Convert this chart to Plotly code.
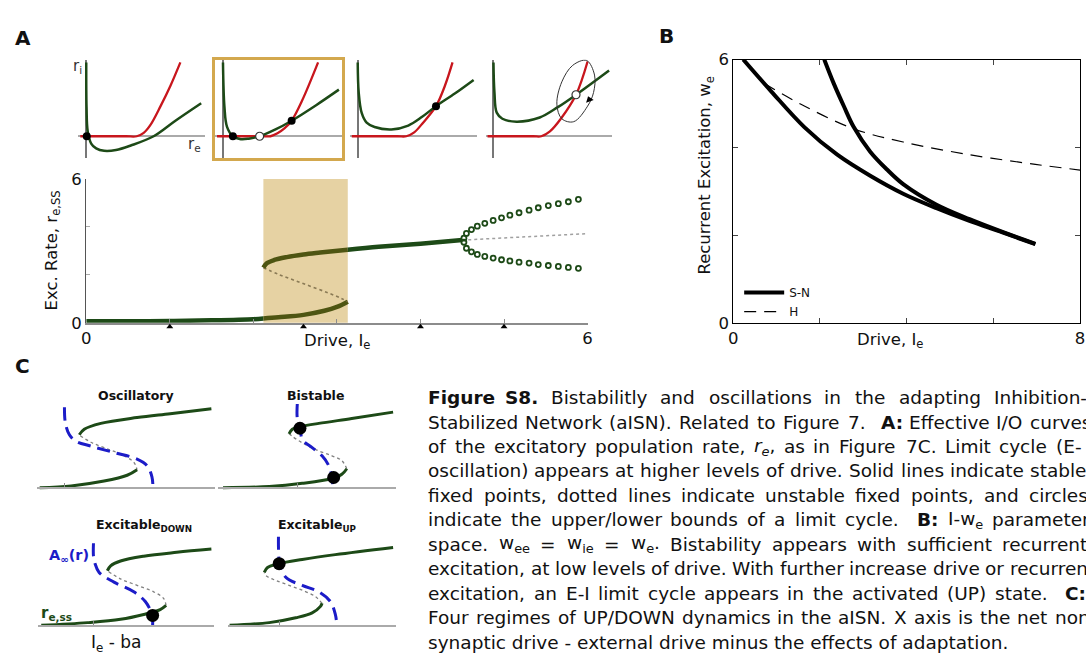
import re
import plotly.graph_objects as go

W, H = 1086, 664
def fx(px): return px / W
def fy(py): return 1 - py / H

FONT = "DejaVu Sans"
GREEN = "#1d4a17"
OLIVE = "#4e5512"
RED = "#c8161d"
TAN = "#e6d2a3"
GOLD = "#d3a84e"
BLUE = "#1c1cc8"

# ---------------- Panel A (top): nullcline sketches, local units ----------------
a1_green_x = [0.0, 0.03, 0.15, 0.5, 1.0, 1.8, 3.0, 4.5, 6.8, 9.0, 11.6]
a1_green_y = [7.6, 3.0, 0.5, -0.75, -1.25, -1.5, -1.42, -0.95, 0.0, 1.6, 3.4]
a1_red_x = [-0.6, 4.0, 5.1, 5.8, 6.5, 7.5, 8.5, 9.5]
a1_red_y = [0.0, 0.0, 0.0, 0.35, 1.2, 3.1, 5.2, 7.6]
a1_fixed_x = [0.05]
a1_fixed_y = [0.0]

a2_green_x = [0.0, 0.15, 0.4, 1.0, 1.8, 2.6, 3.7, 5.3, 6.93, 9.4, 11.7]
a2_green_y = [7.6, 3.0, 1.0, 0.0, -0.3, -0.25, 0.0, 0.7, 1.6, 3.2, 4.8]
a2_red_x = [-0.6, 4.0, 4.8, 5.5, 6.2, 6.93, 8.0, 9.6]
a2_red_y = [0.0, 0.0, 0.0, 0.3, 0.8, 1.6, 3.7, 7.6]
a2_stable_x = [1.0, 6.93]
a2_stable_y = [0.0, 1.6]
a2_unstable_x = [3.7]
a2_unstable_y = [0.0]

a3_green_x = [0.0, 0.1, 0.4, 0.9, 1.7, 3.4, 5.1, 6.5, 7.9, 9.8, 11.7]
a3_green_y = [7.6, 4.5, 2.4, 1.4, 0.95, 0.7, 1.1, 2.0, 3.1, 4.4, 5.8]
a3_red_x = [-0.6, 4.0, 4.9, 5.7, 6.6, 7.9, 8.8, 9.57]
a3_red_y = [0.0, 0.0, 0.0, 0.4, 1.4, 3.1, 5.2, 7.6]
a3_fixed_x = [7.9]
a3_fixed_y = [3.1]

a4_green_x = [0.0, 0.1, 0.33, 0.9, 2.33, 4.67, 6.5, 8.33, 11.67]
a4_green_y = [7.6, 4.5, 2.43, 1.8, 1.5, 1.93, 3.0, 4.27, 6.77]
a4_red_x = [-0.6, 4.0, 4.83, 5.7, 6.8, 8.33, 9.5]
a4_red_y = [0.0, 0.0, 0.0, 0.5, 1.8, 4.27, 7.7]
a4_fixed_x = [8.33]
a4_fixed_y = [4.27]
a4_cycle_x = [9.4, 10.2, 10.1, 9.5, 8.1, 6.9, 6.4, 6.9, 8.0, 9.4]
a4_cycle_y = [7.8, 6.3, 4.5, 3.1, 1.5, 1.8, 3.3, 5.6, 7.3, 7.8]
a4_arrow_x = [9.67]
a4_arrow_y = [3.77]

# ---------------- Panel A (bottom): bifurcation diagram ----------------
bistable_lo, bistable_hi = 2.12, 3.13
low_x = [0.0, 0.5, 1.0, 1.5, 2.0, 2.12]
low_y = [0.06, 0.06, 0.07, 0.1, 0.15, 0.18]
low_in_x = [2.12, 2.3, 2.6, 2.85, 3.0, 3.13]
low_in_y = [0.18, 0.23, 0.33, 0.5, 0.66, 0.88]
mid_x = [2.12, 2.3, 2.5, 2.7, 2.9, 3.05, 3.13]
mid_y = [2.3, 2.02, 1.76, 1.5, 1.24, 1.02, 0.88]
up_in_x = [2.12, 2.16, 2.25, 2.4, 2.6, 2.8, 3.13]
up_in_y = [2.3, 2.48, 2.62, 2.74, 2.85, 2.93, 3.05]
up_x = [3.13, 3.5, 4.0, 4.5]
up_y = [3.05, 3.17, 3.3, 3.45]
hopf_x = [4.5, 5.0, 5.5, 6.0]
hopf_y = [3.45, 3.53, 3.62, 3.72]
lc_x = [4.52, 4.55, 4.61, 4.68, 4.77, 4.87, 4.97, 5.07, 5.18, 5.30, 5.41, 5.53, 5.65, 5.77, 5.89]
lc_upper = [3.53, 3.73, 3.89, 4.03, 4.15, 4.27, 4.38, 4.49, 4.59, 4.70, 4.80, 4.89, 4.97, 5.05, 5.15]
lc_lower = [3.36, 3.11, 2.96, 2.85, 2.77, 2.70, 2.63, 2.58, 2.53, 2.49, 2.43, 2.39, 2.35, 2.31, 2.27]
sketch_drives = [1.0, 2.6, 4.0, 5.0]

# ---------------- Panel B: parameter space ----------------
sn1_x = [0.23, 0.88, 1.64, 2.40, 3.16, 3.92, 4.69, 5.45, 6.21, 6.97]
sn1_y = [6.0, 5.27, 4.46, 3.83, 3.35, 2.94, 2.61, 2.32, 2.06, 1.79]
sn2_x = [2.10, 2.32, 2.55, 2.78, 3.16, 3.54, 3.92, 4.69, 5.45, 6.21, 6.97]
sn2_y = [6.0, 5.45, 4.94, 4.46, 3.90, 3.50, 3.16, 2.69, 2.36, 2.07, 1.80]
h_x = [0.72, 1.64, 2.78, 3.92, 5.45, 6.97, 8.0]
h_y = [5.45, 4.94, 4.42, 4.12, 3.83, 3.61, 3.48]

# ---------------- Panel C: four regimes (schematic, local units) ----------------
c1_low_x = [-2.5, 0.67, 4.0, 6.33, 7.33]
c1_low_y = [0.05, 0.23, 0.73, 1.33, 1.9]
c1_up_x = [1.5, 2.0, 3.67, 7.33, 10.67, 14.83]
c1_up_y = [5.5, 6.07, 6.67, 7.27, 7.67, 8.17]
c1_mid_x = [1.6, 2.67, 4.0, 5.67, 7.0, 7.33]
c1_mid_y = [5.4, 4.73, 4.17, 3.5, 2.67, 1.9]
c1_a_x = [0.0, 0.1, 0.5, 1.17, 2.67, 5.0, 7.33, 8.33, 8.83, 8.93]
c1_a_y = [8.33, 6.67, 5.5, 4.83, 4.33, 3.67, 3.0, 2.33, 1.17, 0.0]

c2_low_x = [-7.5, -2.83, 0.5, 3.5, 4.5, 5.0]
c2_low_y = [0.05, 0.17, 0.5, 1.0, 1.43, 2.0]
c2_mid_x = [5.0, 4.5, 3.5, 2.17, 0.5, -0.5, -0.83]
c2_mid_y = [2.0, 2.83, 3.33, 3.83, 4.67, 5.33, 5.6]
c2_up_x = [-0.83, -0.5, 0.33, 2.17, 5.5, 9.67]
c2_up_y = [5.6, 6.07, 6.33, 6.67, 7.17, 7.83]
c2_a_x = [0.0, 0.0, 0.33, 0.5, 1.5, 2.5, 3.17, 3.5, 3.6]
c2_a_y = [8.67, 7.17, 5.83, 5.0, 4.17, 3.33, 2.33, 1.17, 0.0]
c2_dot_x = [0.27, 3.67]
c2_dot_y = [6.17, 1.1]

c3_low_x = [-5.27, -0.6, 2.73, 5.07, 6.73, 7.33]
c3_low_y = [0.05, 0.33, 0.67, 1.17, 1.67, 2.1]
c3_mid_x = [7.33, 7.07, 6.07, 4.4, 2.73, 1.4]
c3_mid_y = [2.1, 2.83, 3.5, 4.17, 4.83, 5.67]
c3_up_x = [1.4, 1.73, 2.73, 5.07, 8.4, 11.9]
c3_up_y = [5.67, 6.17, 6.67, 7.17, 7.57, 7.9]
c3_a_x = [0.0, 0.0, 0.13, 0.57, 2.07, 4.07, 5.23, 5.9, 5.97]
c3_a_y = [8.5, 7.17, 6.5, 5.5, 4.5, 3.5, 2.5, 1.17, 0.0]
c3_dot_x = [5.97]
c3_dot_y = [1.07]

c4_low_x = [-5.0, -1.0, 1.67, 3.33, 4.17, 4.33]
c4_low_y = [0.05, 0.33, 0.83, 1.33, 2.0, 2.33]
c4_mid_x = [4.33, 3.67, 2.33, 1.0, -0.33, -1.33, -1.5]
c4_mid_y = [2.33, 3.0, 3.67, 4.17, 4.67, 5.17, 5.5]
c4_up_x = [-1.5, -1.17, 0.0, 2.33, 5.67, 11.5]
c4_up_y = [5.5, 6.0, 6.4, 6.83, 7.33, 8.07]
c4_a_x = [-0.07, -0.07, 0.0, 0.67, 2.33, 4.0, 5.17, 5.67, 5.83]
c4_a_y = [9.17, 8.17, 6.83, 5.0, 4.17, 3.5, 2.5, 1.17, 0.0]
c4_dot_x = [0.0]
c4_dot_y = [6.4]

# ---------------- Caption text (justified lines) ----------------
caption_lines = [
    "<b>Figure</b> <b>S8.</b> Bistabilitly and oscillations in the adapting Inhibition-",
    "Stabilized Network (aISN). Related to Figure 7.  <b>A:</b> Effective I/O curves",
    "of the excitatory population rate, <i>r<sub>e</sub></i>, as in Figure 7C. Limit cycle (E-",
    "oscillation) appears at higher levels of drive. Solid lines indicate stable",
    "fixed points, dotted lines indicate unstable fixed points, and circles",
    "indicate the upper/lower bounds of a limit cycle.  <b>B:</b> I-w<sub>e</sub> parameter",
    "space. w<sub>ee</sub> = w<sub>ie</sub> = w<sub>e</sub>. Bistability appears with sufficient recurrent",
    "excitation, at low levels of drive. With further increase drive or recurrent",
    "excitation, an E-I limit cycle appears in the activated (UP) state.  <b>C:</b>",
    "Four regimes of UP/DOWN dynamics in the aISN. X axis is the net non-",
    "synaptic drive - external drive minus the effects of adaptation.",
]
caption_right = [1090, 1095, 1085, 1090, 1092, 1093, 1092, 1092, 1090, 1100, None]
CAP_LEFT, CAP_TOP, CAP_STEP, CAP_SIZE = 426, 400, 25.2, 18.5

# approximate DejaVu Sans advance widths (per 1000 em) for layout of justified text
W_REG = dict(zip("abcdefghijklmnopqrstuvwxyz",
                 [613, 635, 550, 635, 615, 352, 635, 634, 278, 278, 579, 278, 974, 634, 612, 635, 635, 411,
                  521, 392, 634, 592, 818, 592, 592, 525]))
W_REG.update(dict(zip("ABCDEFGHIJKLMNOPQRSTUVWXYZ",
                      [684, 686, 698, 770, 632, 575, 775, 752, 295, 295, 656, 557, 863, 748, 787, 603, 787,
                       695, 635, 611, 732, 684, 989, 685, 611, 685])))
W_REG.update({c: 636 for c in "0123456789"})
W_REG.update({" ": 318, ".": 318, ",": 318, ":": 337, "(": 390, ")": 390, "-": 361, "/": 337, "=": 838})
W_BOLD = {k: v * 1.1 for k, v in W_REG.items()}

def text_width(html, size):
    total, bold, sub = 0.0, False, False
    for tok in re.split(r"(<[^>]+>)", html):
        if tok.startswith("<"):
            tag = tok.strip("</>").lower()
            closing = tok.startswith("</")
            if tag == "b":
                bold = not closing
            elif tag == "sub":
                sub = not closing
            continue
        for ch in tok:
            w = (W_BOLD if bold else W_REG).get(ch, 600)
            total += w * (0.7 if sub else 1.0)
    return total * size / 1000.0

fig = go.Figure()

def sfx(ax):
    return "" if ax == 1 else str(ax)

def line(x, y, ax, color, width, dash=None, shape="spline", name=None, legend=False):
    fig.add_trace(go.Scatter(x=x, y=y, xaxis="x" + sfx(ax), yaxis="y" + sfx(ax), mode="lines",
                             line=dict(color=color, width=width, dash=dash, shape=shape),
                             name=name, showlegend=legend, hoverinfo="skip"))

def pts(x, y, ax, symbol, color, size, lw=0, lcolor=None, fill=None, angle=0):
    fig.add_trace(go.Scatter(x=x, y=y, xaxis="x" + sfx(ax), yaxis="y" + sfx(ax), mode="markers",
                             marker=dict(symbol=symbol, size=size, color=fill if fill else color, angle=angle,
                                         line=dict(width=lw, color=lcolor if lcolor else color)),
                             showlegend=False, hoverinfo="skip", cliponaxis=False))

# ---- Panel A bottom (axis 1; triangles on axis 11)
line(low_x, low_y, 1, GREEN, 4.5)
line(low_in_x, low_in_y, 1, OLIVE, 4.5)
line(mid_x, mid_y, 1, "#8a7a55", 1.6, dash="dot")
line(up_in_x, up_in_y, 1, OLIVE, 4.5)
line(up_x, up_y, 1, GREEN, 4.5)
line(hopf_x, hopf_y, 1, "#a0a0a0", 1.5, dash="dot", shape="linear")
pts(lc_x, lc_upper, 1, "circle-open", GREEN, 5, lw=1.8)
pts(lc_x, lc_lower, 1, "circle-open", GREEN, 5, lw=1.8)
pts(sketch_drives, [0.5] * len(sketch_drives), 11, "triangle-up", "black", 6)

# ---- Panel B (axis 2)
line(sn1_x, sn1_y, 2, "black", 4, name="S-N", legend=True)
line(sn2_x, sn2_y, 2, "black", 4, name="S-N", legend=False)
line(h_x, h_y, 2, "black", 1.2, dash="12px,8px", name="H", legend=True)

# ---- Panel A top (axes 3-6)
tops = [
    (3, a1_green_x, a1_green_y, a1_red_x, a1_red_y),
    (4, a2_green_x, a2_green_y, a2_red_x, a2_red_y),
    (5, a3_green_x, a3_green_y, a3_red_x, a3_red_y),
    (6, a4_green_x, a4_green_y, a4_red_x, a4_red_y),
]
for ax, gx, gy, rx, ry in tops:
    line(rx, ry, ax, RED, 2.3)
    line(gx, gy, ax, GREEN, 2.5)
line(a4_cycle_x, a4_cycle_y, 6, "#333333", 1.0)
pts(a1_fixed_x, a1_fixed_y, 3, "circle", "black", 8)
pts(a2_stable_x, a2_stable_y, 4, "circle", "black", 8)
pts(a2_unstable_x, a2_unstable_y, 4, "circle", "#333333", 8, lw=1.2, fill="white")
pts(a3_fixed_x, a3_fixed_y, 5, "circle", "black", 8)
pts(a4_fixed_x, a4_fixed_y, 6, "circle", "#333333", 8, lw=1.2, fill="white")
pts(a4_arrow_x, a4_arrow_y, 6, "triangle-up", "black", 7, angle=-20)

# ---- Panel C (axes 7-10)
cs = [
    (7, c1_low_x, c1_low_y, c1_mid_x, c1_mid_y, c1_up_x, c1_up_y, c1_a_x, c1_a_y, None, None),
    (8, c2_low_x, c2_low_y, c2_mid_x, c2_mid_y, c2_up_x, c2_up_y, c2_a_x, c2_a_y, c2_dot_x, c2_dot_y),
    (9, c3_low_x, c3_low_y, c3_mid_x, c3_mid_y, c3_up_x, c3_up_y, c3_a_x, c3_a_y, c3_dot_x, c3_dot_y),
    (10, c4_low_x, c4_low_y, c4_mid_x, c4_mid_y, c4_up_x, c4_up_y, c4_a_x, c4_a_y, c4_dot_x, c4_dot_y),
]
for ax, lx, ly, mx, my, ux, uy, bx, by, dx, dy in cs:
    line(mx, my, ax, "#808080", 1.3, dash="dot")
    line(lx, ly, ax, GREEN, 3)
    line(ux, uy, ax, GREEN, 3)
    line(bx, by, ax, BLUE, 3, dash="13px,7px")
    if dx is not None:
        pts(dx, dy, ax, "circle", "black", 13)

# ---------------- Axes ----------------
layout = {}
def axes(idx, xpx, ypx, xr, yr, xextra=None, yextra=None):
    s = sfx(idx)
    xa = dict(domain=[fx(xpx[0]), fx(xpx[1])], range=xr, anchor="y" + s, showgrid=False,
              zeroline=False, showticklabels=False, ticks="", showline=False, fixedrange=True)
    ya = dict(domain=[fy(ypx[1]), fy(ypx[0])], range=yr, anchor="x" + s, showgrid=False,
              zeroline=False, showticklabels=False, ticks="", showline=False, fixedrange=True)
    if xextra: xa.update(xextra)
    if yextra: ya.update(yextra)
    layout["xaxis" + s] = xa
    layout["yaxis" + s] = ya

tickfont = dict(family=FONT, size=16.5, color="#111")
axes(1, (82, 588), (175, 323), [0, 6], [0, 6],
     xextra=dict(showline=True, linecolor="#8c8c8c", linewidth=1.5, ticks="inside", ticklen=4,
                 tickcolor="#8c8c8c", tickvals=[0, 6], showticklabels=True, tickfont=tickfont,
                 minor=dict(tickvals=[1, 2, 3, 4, 5], ticks="inside", ticklen=4, tickcolor="#8c8c8c")),
     yextra=dict(showline=True, linecolor="#555555", linewidth=1.2, ticks="inside", ticklen=4,
                 tickcolor="#aaaaaa", tickvals=[0, 6], showticklabels=True, tickfont=tickfont,
                 minor=dict(tickvals=[2, 4], ticks="inside", ticklen=4, tickcolor="#aaaaaa")))
axes(2, (735, 1085), (52, 323), [0, 8], [0, 6],
     xextra=dict(showline=True, mirror="ticks", linecolor="black", linewidth=1, ticks="inside",
                 ticklen=5, tickvals=[0, 8], showticklabels=True, tickfont=tickfont,
                 minor=dict(tickvals=[2, 4, 6], ticks="inside", ticklen=5, tickcolor="#444")),
     yextra=dict(showline=True, mirror="ticks", linecolor="black", linewidth=1, ticks="inside",
                 ticklen=5, tickvals=[0, 6], showticklabels=True, tickfont=tickfont,
                 minor=dict(tickvals=[2, 4], ticks="inside", ticklen=5, tickcolor="#444")))
top_axis_px = [82, 220, 356, 493]
for i, axpx in enumerate(top_axis_px):
    idx = 3 + i
    xe = dict(zeroline=True, zerolinecolor="#777777", zerolinewidth=1.6)
    ye = dict(zeroline=True, zerolinecolor="#aaaaaa", zerolinewidth=1.6)
    if idx == 4:
        xe.update(showline=True, mirror=True, linecolor=GOLD, linewidth=2.5)
        ye.update(showline=True, mirror=True, linecolor=GOLD, linewidth=2.5)
    axes(idx, (axpx - 8, axpx + 120), (52, 153), [-0.8, 12.0], [-2.2, 7.9], xe, ye)

c_specs = [
    (7, (32, 212), (405.3, 495.3), [-2.8, 15.2], [-0.2, 8.8], 493.3),
    (8, (215, 395), (403.3, 495.3), [-8.0, 10.0], [-0.2, 9.0], 493.3),
    (9, (33.3, 211.3), (545, 637), [-5.6, 12.2], [-0.2, 9.0], 635),
    (10, (224.7, 394.7), (541, 637), [-5.2, 11.8], [-0.2, 9.4], 635),
]
for idx, xpx, ypx, xr, yr, axis_py in c_specs:
    axes(idx, xpx, ypx, xr, yr,
         xextra=dict(anchor="free", position=fy(axis_py), showline=True, linecolor="#aaaaaa",
                     linewidth=1.5, ticks="inside", ticklen=4, tickcolor="#888888", tickvals=[0]),
         yextra=dict(visible=False))
axes(11, (82, 588), (322, 332), [0, 6], [0, 1], xextra=dict(visible=False), yextra=dict(visible=False))

# ---------------- Annotations ----------------
ann = []
def text(px, py, s, size, color="#111", angle=0, xanchor="center", yanchor="middle"):
    ann.append(dict(x=fx(px), y=fy(py), xref="paper", yref="paper", text=s, showarrow=False,
                    xanchor=xanchor, yanchor=yanchor, textangle=angle, borderpad=0,
                    font=dict(family=FONT, size=size, color=color)))

text(18, 30, "<b>A</b>", 20)
text(668, 28, "<b>B</b>", 20)
text(18, 368, "<b>C</b>", 20)
text(73, 59, "r<sub>i</sub>", 15, color="#333")
text(191, 139, "r<sub>e</sub>", 15, color="#333")
text(48, 249, "Exc. Rate, r<sub>e,SS</sub>", 16.5, angle=-90)
text(335, 342, "Drive, I<sub>e</sub>", 16.5)
text(707, 171, "Recurrent Excitation, w<sub>e</sub>", 16.5, angle=-90)
text(893, 341, "Drive, I<sub>e</sub>", 16.5)
text(132, 398, "<b>Oscillatory</b>", 12.5)
text(313, 398, "<b>Bistable</b>", 12.5)
text(140, 532, "<b>Excitable<sub>DOWN</sub></b>", 12.5)
text(315, 532, "<b>Excitable<sub>UP</sub></b>", 12.5)
text(65, 563, "<b>A<sub>∞</sub>(r)</b>", 14.5, color=BLUE)
text(52, 622, "<b>r<sub>e,ss</sub></b>", 15, color=GREEN)
text(113, 653, "I<sub>e</sub> - ba", 17)

# justified caption: each word placed so that the line spans to its right margin
for i, (src, right) in enumerate(zip(caption_lines, caption_right)):
    py = CAP_TOP + CAP_STEP * i
    if right is None:
        text(CAP_LEFT, py, src, CAP_SIZE, xanchor="left")
        continue
    words, weights, pending = [], [], 1
    for w in src.split(" "):
        if w == "":
            pending += 1
            continue
        words.append(w)
        weights.append(pending)
        pending = 1
    widths = [text_width(w, CAP_SIZE) for w in words]
    wsum = sum(weights[1:])
    space = 318 * CAP_SIZE / 1000.0
    gap = max(space, (right - CAP_LEFT - sum(widths)) / wsum) if wsum else space
    x = CAP_LEFT
    for k, (w, wd) in enumerate(zip(words, widths)):
        if k > 0:
            x += gap * weights[k]
        text(x, py, w, CAP_SIZE, xanchor="left")
        x += wd

fig.update_layout(
    width=W, height=H, autosize=False,
    margin=dict(l=0, r=0, t=0, b=0, pad=0),
    paper_bgcolor="white", plot_bgcolor="rgba(0,0,0,0)",
    font=dict(family=FONT, size=14, color="#111"),
    showlegend=True,
    legend=dict(x=fx(741), y=fy(277), xanchor="left", yanchor="top", bgcolor="rgba(0,0,0,0)",
                font=dict(family=FONT, size=12, color="#111"), tracegroupgap=0, itemwidth=40),
    shapes=[dict(type="rect", xref="x", yref="y domain", x0=bistable_lo, x1=bistable_hi, y0=0, y1=1,
                 fillcolor=TAN, line=dict(width=0), layer="below")],
    annotations=ann,
    **layout,
)

fig.write_html("out.html")
